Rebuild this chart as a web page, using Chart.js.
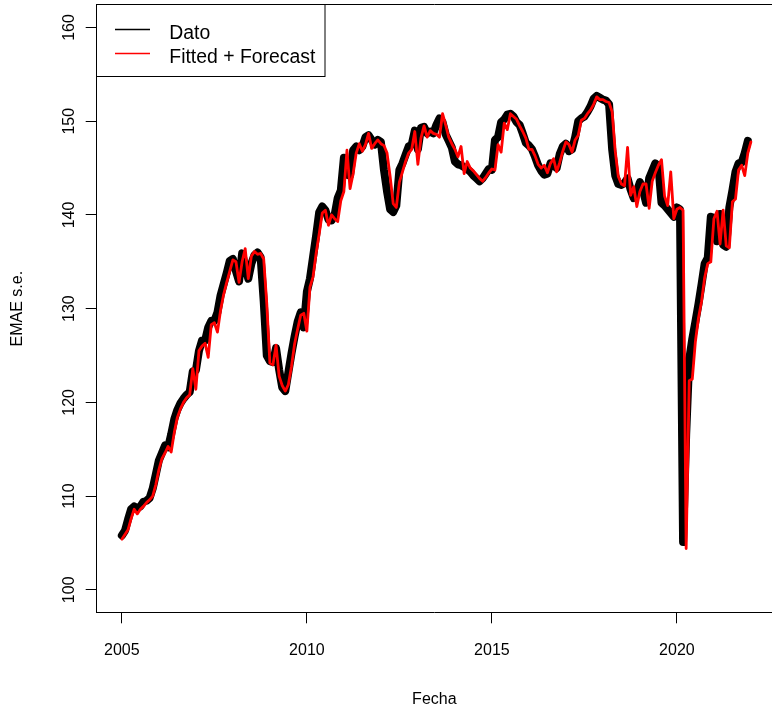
<!DOCTYPE html>
<html>
<head>
<meta charset="utf-8">
<script src="https://cdn.jsdelivr.net/npm/chart.js@4.4.1/dist/chart.umd.min.js"></script>
<style>
  html, body { margin: 0; padding: 0; background: #ffffff; }
  #wrap { width: 772px; height: 712px; }
</style>
</head>
<body>
<div id="wrap"><canvas id="c" width="772" height="712"></canvas></div>
<script>
// Monthly series, first observation January 2005
const inicio = 2005;
const frecuencia = 12;

// EMAE, seasonally adjusted (Jan 2005 - Dec 2021)
const dato = [
  105.8, 106.3, 107.5, 108.6, 108.9, 108.7, 108.9, 109.4, 109.5, 109.8, 110.8, 112.3,
  113.8, 114.6, 115.4, 115.2, 116.6, 118.2, 119.2, 119.9, 120.4, 120.8, 121.1, 123.3,
  123.4, 125.5, 126.6, 126.6, 128.0, 128.7, 128.7, 129.6, 131.4, 132.6, 133.8, 135.1,
  135.3, 134.0, 132.9, 135.9, 134.5, 133.2, 134.8, 135.7, 136.0, 135.5, 130.8, 125.0,
  124.4, 124.3, 125.8, 123.5, 121.6, 121.2, 123.2, 125.2, 127.0, 128.6, 129.6, 128.0,
  131.8, 133.2, 135.5, 137.8, 140.3, 140.9, 140.5, 139.5, 139.4, 140.0, 141.8, 142.6,
  146.1, 144.3, 144.2, 146.9, 147.3, 146.9, 147.3, 148.3, 148.5, 148.0, 147.5, 148.0,
  147.8, 144.8, 142.5, 140.6, 140.3, 141.0, 144.8, 145.5, 146.4, 147.3, 147.5, 149.0,
  147.0, 149.3, 149.4, 148.7, 148.9, 148.7, 149.6, 150.3, 149.9, 148.6, 147.9, 147.2,
  145.7, 145.4, 145.3, 145.1, 144.9, 144.6, 144.2, 143.9, 143.6, 143.9, 144.4, 144.9,
  144.8, 148.0, 148.3, 149.9, 150.2, 150.7, 150.8, 150.5, 149.9, 149.6, 148.7, 147.7,
  147.4, 147.0, 146.2, 145.3, 144.7, 144.3, 144.4, 145.5, 145.3, 145.0, 146.5, 147.3,
  147.6, 146.8, 147.0, 148.3, 150.0, 150.3, 150.5, 151.0, 151.6, 152.4, 152.7, 152.5,
  152.3, 152.2, 151.8, 147.0, 144.2, 143.3, 143.2, 143.4, 143.9, 142.7, 141.8, 142.5,
  143.5, 142.6, 141.3, 143.9, 144.7, 145.5, 145.2, 141.3, 141.0, 140.6, 140.2, 139.8,
  140.8, 140.6, 105.1, 116.5, 124.6, 126.8, 128.6, 130.5, 132.6, 134.8, 135.4, 139.8,
  139.7, 137.2, 140.1, 136.8, 136.6, 140.8, 142.6, 144.6, 145.5, 145.6, 146.6, 147.9
];

// Fitted values plus one-step forecast (Jan 2005 - Jan 2022)
const ajuste = [
  105.4, 105.9, 106.4, 107.6, 108.6, 108.1, 108.6, 108.9, 109.3, 109.6, 110.0, 111.2,
  112.8, 114.0, 114.6, 115.3, 114.7, 116.8, 118.4, 119.3, 120.0, 120.5, 120.8, 123.6,
  121.4, 125.5, 126.0, 126.3, 124.8, 128.3, 128.5, 127.5, 129.8, 131.5, 132.8, 134.0,
  135.2, 135.0, 132.8, 135.0, 136.4, 133.2, 135.6, 136.1, 135.8, 135.9, 135.3, 130.5,
  124.2, 124.0, 126.1, 122.8, 121.8, 121.2, 121.9, 123.8, 126.2, 127.8, 129.3, 129.5,
  127.6, 132.3, 133.4, 135.9, 138.0, 140.2, 140.5, 138.9, 140.0, 139.6, 139.3, 141.5,
  142.5, 146.9, 142.8, 144.4, 146.6, 147.6, 146.8, 147.5, 148.7, 147.1, 147.6, 148.0,
  147.6, 147.4, 146.6, 144.1, 141.2, 140.8, 143.5, 144.6, 145.7, 146.6, 147.0, 148.9,
  145.4, 148.2, 149.5, 148.3, 149.0, 148.7, 148.6, 148.3, 150.8, 149.6, 148.3, 147.6,
  147.0, 146.2, 147.3, 144.4, 145.7, 145.0, 144.7, 144.3, 143.9, 143.6, 144.0, 144.5,
  144.9, 144.8, 147.5, 146.7, 149.8, 149.1, 150.8, 150.5, 150.2, 149.5, 148.9, 148.2,
  147.0, 147.0, 146.3, 145.4, 145.0, 145.3, 144.5, 145.5, 146.0, 144.6, 145.6, 146.8,
  147.8, 147.5, 146.7, 148.0, 148.5, 150.1, 150.3, 150.8, 151.2, 151.8, 152.6, 152.3,
  152.3, 152.1, 152.0, 151.0, 146.8, 144.1, 143.3, 143.1, 147.2, 142.1, 143.0, 140.9,
  142.5, 143.3, 143.3, 140.7, 143.6, 144.5, 145.3, 145.9, 142.0, 141.0, 144.6, 139.6,
  140.6, 140.8, 140.5, 104.4, 122.3, 122.5, 126.5, 129.0, 130.8, 133.3, 134.8, 135.0,
  139.6, 140.4, 136.9, 140.5, 136.7, 136.5, 141.4, 141.7, 144.8, 145.3, 144.2, 146.6,
  147.8
];

const nombresSeries = ['Dato', 'Fitted + Forecast'];
const coloresSeries = ['#000000', '#ff0000'];
const ticksX = [2005, 2010, 2015, 2020];
const ticksY = [100, 110, 120, 130, 140, 150, 160];

const aPuntos = arr => arr.map((v, i) => ({ x: inicio + i / frecuencia, y: v }));

Chart.defaults.font.family = "'Liberation Sans', Arial, Helvetica, sans-serif";
Chart.defaults.color = '#000000';

// Closes the frame on top and draws the legend box in the upper-left corner
const marcoYLeyenda = {
  id: 'marcoYLeyenda',
  afterDraw(chart) {
    const ctx = chart.ctx;
    const a = chart.chartArea;
    ctx.save();
    ctx.strokeStyle = '#000000';
    ctx.lineWidth = 1;
    ctx.beginPath();
    ctx.moveTo(a.left, Math.round(a.top) - 0.5);
    ctx.lineTo(chart.width, Math.round(a.top) - 0.5);
    ctx.stroke();

    const x0 = Math.round(a.left) - 0.5;
    const y0 = Math.round(a.top) - 0.5;
    const w = 228.5, h = 72;
    ctx.fillStyle = '#ffffff';
    ctx.fillRect(x0, y0, w, h);
    ctx.strokeStyle = '#000000';
    ctx.strokeRect(x0, y0, w, h);

    ctx.font = "19.4px 'Liberation Sans', Arial, sans-serif";
    ctx.textBaseline = 'alphabetic';
    ctx.textAlign = 'left';
    nombresSeries.forEach((nombre, i) => {
      const yl = Math.round(y0 + 24 + i * 24.4) + 0.5;
      ctx.strokeStyle = coloresSeries[i];
      ctx.lineWidth = 1.3;
      ctx.beginPath();
      ctx.moveTo(x0 + 18.5, yl);
      ctx.lineTo(x0 + 53.5, yl);
      ctx.stroke();
      ctx.fillStyle = '#000000';
      ctx.fillText(nombre, x0 + 72.8, yl + 9.4);
    });
    ctx.restore();
  }
};

new Chart(document.getElementById('c'), {
  type: 'line',
  data: {
    datasets: [
      {
        label: nombresSeries[0],
        data: aPuntos(dato),
        borderColor: coloresSeries[0],
        borderWidth: 8,
        pointRadius: 0,
        tension: 0,
        fill: false,
        borderJoinStyle: 'round',
        borderCapStyle: 'round',
        order: 2
      },
      {
        label: nombresSeries[1],
        data: aPuntos(ajuste),
        borderColor: coloresSeries[1],
        borderWidth: 2.8,
        pointRadius: 0,
        tension: 0,
        fill: false,
        borderJoinStyle: 'round',
        borderCapStyle: 'round',
        order: 1
      }
    ]
  },
  options: {
    responsive: false,
    devicePixelRatio: 1,
    animation: false,
    events: [],
    layout: { padding: { top: 5, left: 0, right: 0, bottom: 0 } },
    plugins: { legend: { display: false }, tooltip: { enabled: false } },
    scales: {
      x: {
        type: 'linear',
        min: 2004.32,
        max: 2022.57,
        afterBuildTicks: s => { s.ticks = ticksX.map(v => ({ value: v })); },
        afterFit: s => { s.height = 99.7; s.paddingLeft = 0; s.paddingRight = 0; },
        ticks: {
          color: '#000000',
          font: { size: 16 },
          padding: 18,
          maxRotation: 0,
          autoSkip: false,
          callback: v => String(v)
        },
        grid: {
          display: true,
          drawOnChartArea: false,
          drawTicks: true,
          tickLength: 11,
          tickColor: '#000000',
          color: '#000000'
        },
        border: { display: true, color: '#000000', width: 1 },
        title: {
          display: true,
          text: 'Fecha',
          color: '#000000',
          font: { size: 16 },
          padding: { top: 0, bottom: 3 }
        }
      },
      y: {
        type: 'linear',
        min: 97.6,
        max: 162.4,
        afterBuildTicks: s => { s.ticks = ticksY.map(v => ({ value: v })); },
        afterFit: s => { s.width = 96.7; s.paddingTop = 0; s.paddingBottom = 0; },
        ticks: {
          color: '#000000',
          font: { size: 16 },
          padding: 2.6,
          minRotation: 90,
          maxRotation: 90,
          crossAlign: 'center',
          autoSkip: false,
          callback: v => String(v)
        },
        grid: {
          display: true,
          drawOnChartArea: false,
          drawTicks: true,
          tickLength: 11,
          tickColor: '#000000',
          color: '#000000'
        },
        border: { display: true, color: '#000000', width: 1 },
        title: {
          display: true,
          text: 'EMAE s.e.',
          color: '#000000',
          font: { size: 16 },
          padding: { top: 8, bottom: 0 }
        }
      }
    }
  },
  plugins: [marcoYLeyenda]
});
</script>
</body>
</html>
